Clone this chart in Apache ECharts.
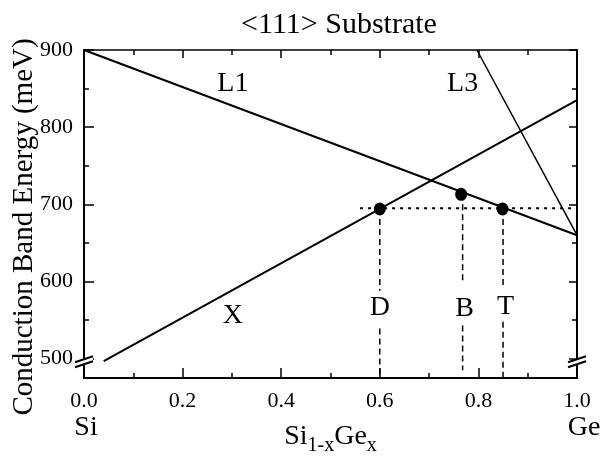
<!DOCTYPE html>
<html>
<head>
<meta charset="utf-8">
<script src="https://cdn.jsdelivr.net/npm/echarts@6/dist/echarts.min.js"></script>
<style>
  html, body { margin: 0; padding: 0; background: #fff; }
  #chart { width: 603px; height: 465px; }
</style>
</head>
<body>
<div id="chart"></div>
<script>
// band edges vs Ge fraction x, values in meV
const lineL1 = [[0.0, 900], [1.0, 660]];
const lineX = [[0.04, 497], [1.0, 835]];
const lineL3 = [[0.797, 900], [1.0, 660]];
const dottedLevel = [[0.56, 695], [1.0, 695]];

// D, B, T points and their drop lines
const pointNames = ['D', 'B', 'T'];
const pointX = [0.600, 0.765, 0.849];
const pointY = [694, 713, 694];
const dropX = [0.600, 0.768, 0.850];
const dropGapTop = [588, 597, 593];
const dropGapBottom = [539, 543, 548];
const dropEnd = [475, 485, 475];

// curve / point labels
const labelNames = ['L1', 'L3', 'X', 'D', 'B', 'T'];
const labelX = [0.302, 0.768, 0.302, 0.600, 0.772, 0.855];
const labelY = [857, 857, 556, 566, 565, 567];

// axes
const xMajor = [0, 0.2, 0.4, 0.6, 0.8, 1.0];
const xMinor = [0.1, 0.3, 0.5, 0.7, 0.9];
const yMajor = [500, 600, 700, 800, 900];
const yMinor = [550, 650, 750, 850];
const yMin = 475, yMax = 900;
const breakAt = 496;

const serif = '"Liberation Serif", "DejaVu Serif", serif';

const chart = echarts.init(document.getElementById('chart'), null, { renderer: 'canvas' });

function tickAxis(pos, min, max, ticks, len, line, extra) {
  return Object.assign({
    type: 'value', position: pos, min: min, max: max,
    axisLine: { show: line > 0, onZero: false, lineStyle: { color: '#000', width: line } },
    axisTick: { show: true, inside: true, length: len, customValues: ticks, lineStyle: { color: '#000', width: 1.5 } },
    axisLabel: { show: false },
    splitLine: { show: false }
  }, extra || {});
}

const series = [];
const solid = (data, w) => ({
  type: 'line', data: data, symbol: 'none', silent: true,
  lineStyle: { color: '#000', width: w }
});
series.push(solid(lineL1, 2));
series.push(solid(lineX, 2));
series.push(solid(lineL3, 1.5));
series.push({
  type: 'line', data: dottedLevel, symbol: 'none',
  lineStyle: { color: '#000', width: 2, type: [3, 5] }
});
dropX.forEach(function (x, i) {
  const segs = [[[x, pointY[i]], [x, dropGapTop[i]]], [[x, dropGapBottom[i]], [x, dropEnd[i]]]];
  segs.forEach(function (s) {
    series.push({
      type: 'line', data: s, symbol: 'none',
      lineStyle: { color: '#000', width: 1.5, type: [6, 4] }
    });
  });
});
series.push({
  type: 'scatter', symbol: 'circle', symbolSize: [12, 13],
  itemStyle: { color: '#000', opacity: 1 },
  data: pointX.map((x, i) => ({ name: pointNames[i], value: [x, pointY[i]] }))
});
series.push({
  type: 'scatter', symbolSize: 0,
  itemStyle: { opacity: 1 },
  label: { show: true, position: 'inside', formatter: '{b}', color: '#000', opacity: 1, fontSize: 28, fontFamily: serif },
  data: labelNames.map((n, i) => ({ name: n, value: [labelX[i], labelY[i]] }))
});

chart.setOption({
  backgroundColor: '#fff',
  animation: false,
  title: {
    text: '<111> Substrate', left: 334, top: 5, textAlign: 'center',
    textStyle: { fontFamily: serif, fontSize: 30, fontWeight: 'normal', color: '#000' }
  },
  grid: { left: 84, right: 26, top: 50, bottom: 87, outerBoundsMode: 'none', containLabel: false },
  xAxis: [
    tickAxis('bottom', 0, 1, xMajor, 10, 2, {
      name: 'Si{s|1-x}Ge{s|x}', nameLocation: 'middle', nameGap: 40, nameMoveOverlap: false,
      nameTextStyle: {
        fontFamily: serif, fontSize: 28, color: '#000', padding: [0, 0, 18, 0],
        rich: { s: { fontFamily: serif, fontSize: 20, color: '#000', padding: [18, 0, 0, 0] } }
      },
      axisLabel: {
        show: true, customValues: xMajor, margin: 10, color: '#000',
        fontFamily: serif, fontSize: 22,
        formatter: function (v) {
          if (v === 0) return '0.0\n{si|Si}';
          if (v === 1) return '1.0\n{ge|Ge}';
          return v.toFixed(1);
        },
        lineHeight: 26,
        rich: {
          si: { fontFamily: serif, fontSize: 28, color: '#000', padding: [2, 0, 0, 4] },
          ge: { fontFamily: serif, fontSize: 28, color: '#000', padding: [2, 0, 0, 14] }
        }
      }
    }),
    tickAxis('bottom', 0, 1, xMinor, 5, 0),
    tickAxis('top', 0, 1, xMajor, 8, 1.5),
    tickAxis('top', 0, 1, xMinor, 5, 0)
  ],
  yAxis: [
    tickAxis('left', yMin, yMax, yMajor, 10, 2, {
      name: 'Conduction Band Energy (meV)', nameLocation: 'middle', nameGap: 45, nameMoveOverlap: false,
      nameTextStyle: { fontFamily: serif, fontSize: 29, color: '#000', padding: [0, 26, 0, 0] },
      axisLabel: { show: true, customValues: yMajor, margin: 11, color: '#000', fontFamily: serif, fontSize: 22 }
    }),
    tickAxis('left', yMin, yMax, yMinor, 5, 0),
    tickAxis('right', yMin, yMax, yMajor, 8, 2),
    tickAxis('right', yMin, yMax, yMinor, 5, 0)
  ],
  series: series
});

// axis break marks (double slash) on both vertical axes
const pl = chart.convertToPixel({ xAxisIndex: 0, yAxisIndex: 0 }, [0, breakAt]);
const pr = chart.convertToPixel({ xAxisIndex: 0, yAxisIndex: 0 }, [1, breakAt]);
function breakMark(p) {
  const w = 9, h = 3, g = 5;
  return {
    type: 'group', children: [
      { type: 'polygon', shape: { points: [[p[0] - w, p[1] - g / 2 + h], [p[0] + w, p[1] - g / 2 - h], [p[0] + w, p[1] + g / 2 - h], [p[0] - w, p[1] + g / 2 + h]] }, style: { fill: '#fff' }, z: 100 },
      { type: 'line', shape: { x1: p[0] - w, y1: p[1] - g / 2 + h, x2: p[0] + w, y2: p[1] - g / 2 - h }, style: { stroke: '#000', lineWidth: 2 }, z: 101 },
      { type: 'line', shape: { x1: p[0] - w, y1: p[1] + g / 2 + h, x2: p[0] + w, y2: p[1] + g / 2 - h }, style: { stroke: '#000', lineWidth: 2 }, z: 101 }
    ]
  };
}
chart.setOption({ graphic: [breakMark(pl), breakMark(pr)] });
</script>
</body>
</html>
